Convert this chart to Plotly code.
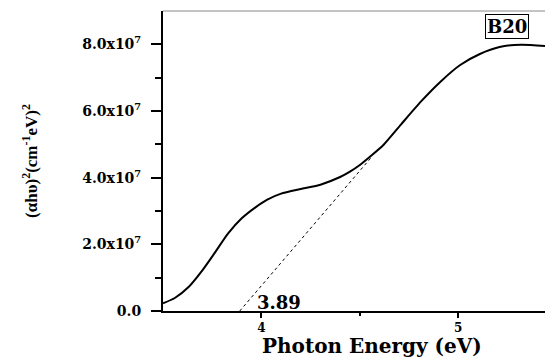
import plotly.graph_objects as go

# Photon energy (eV) and (alpha h nu)^2 in units of 1e7 (cm^-1 eV)^2
energy = [3.50, 3.56, 3.63, 3.70, 3.76, 3.83, 3.90, 3.97, 4.03, 4.10,
          4.20, 4.30, 4.40, 4.45, 4.50, 4.55, 4.62, 4.71, 4.81, 4.91,
          5.01, 5.11, 5.21, 5.32, 5.441]
ahv2_e7 = [0.23, 0.39, 0.72, 1.22, 1.72, 2.32, 2.78, 3.11, 3.34, 3.52,
           3.66, 3.79, 4.02, 4.18, 4.38, 4.62, 4.98, 5.60, 6.28, 6.88,
           7.38, 7.71, 7.92, 7.99, 7.95]
ahv2 = [v * 1e7 for v in ahv2_e7]

# Tauc extrapolation line
fit_x = [3.89, 4.56]
fit_y = [0.0, 4.62e7]
gap_label = "3.89"
sample_label = "B20"
x_title = "Photon Energy (eV)"
y_title = "(αhυ)<sup>2</sup>(cm<sup>-1</sup>eV)<sup>2</sup>"

y_tickvals = [0, 2e7, 4e7, 6e7, 8e7]
y_ticktext = ["0.0", "2.0x10<sup>7</sup>", "4.0x10<sup>7</sup>",
              "6.0x10<sup>7</sup>", "8.0x10<sup>7</sup>"]
y_minor = [1e7, 3e7, 5e7, 7e7]
x_tickvals = [4, 5]
x_ticktext = ["4", "5"]
x_minor = [4.5]

wide = "DejaVu Serif"
L, R, T, B, W, H = 163, 0, 11, 47, 545, 358
plot_w = W - L - R
plot_h = H - T - B

fig = go.Figure()
fig.add_trace(go.Scatter(x=energy, y=ahv2, mode="lines",
                         line=dict(color="black", width=2, shape="spline", smoothing=0.6),
                         hoverinfo="skip", showlegend=False))
fig.add_trace(go.Scatter(x=fit_x, y=fit_y, mode="lines",
                         line=dict(color="black", width=1, dash="3px,3px"),
                         hoverinfo="skip", showlegend=False))

fig.update_layout(
    width=W, height=H,
    margin=dict(l=L, r=R, t=T, b=B),
    paper_bgcolor="white", plot_bgcolor="white",
    font=dict(family=wide, color="black"),
    xaxis=dict(range=[3.5, 5.441], showgrid=False, zeroline=False,
               showline=True, linecolor="black", linewidth=2,
               ticks="outside", ticklen=5, tickwidth=2, tickcolor="black",
               tickmode="array", tickvals=x_tickvals, ticktext=x_ticktext,
               tickfont=dict(family=wide, size=12, weight="bold"),
               minor=dict(tickmode="array", tickvals=x_minor, ticks="outside",
                          ticklen=3, tickwidth=2, tickcolor="black")),
    yaxis=dict(range=[0, 9e7], showgrid=False, zeroline=False,
               showline=True, linecolor="black", linewidth=2,
               ticks="outside", ticklen=10, tickwidth=1.5, tickcolor="black",
               tickmode="array", tickvals=y_tickvals, ticktext=y_ticktext,
               tickfont=dict(family=wide, size=14, weight="bold"),
               ticklabelstandoff=7,
               minor=dict(tickmode="array", tickvals=y_minor, ticks="outside",
                          ticklen=6, tickwidth=1.5, tickcolor="black"),
               title=dict(text=y_title, standoff=40,
                          font=dict(family="Liberation Serif", size=17, weight="bold"))),
    shapes=[dict(type="line", xref="paper", yref="paper", x0=0, x1=1, y0=1, y1=1,
                 line=dict(color="#888888", width=1))],
    annotations=[
        dict(x=3.965, y=0.27e7, xref="x", yref="y", text=gap_label, showarrow=False,
             xanchor="left", yanchor="middle",
             font=dict(family=wide, size=18, weight="bold")),
        dict(x=(507 - L) / plot_w, y=(H - B - 26.5) / plot_h,
             xref="paper", yref="paper", text=sample_label, showarrow=False,
             xanchor="center", yanchor="middle",
             font=dict(family=wide, size=18, weight="bold"),
             bordercolor="black", borderwidth=1, borderpad=1, bgcolor="white"),
        dict(x=(372 - L) / plot_w, y=(H - B - 346) / plot_h,
             xref="paper", yref="paper", text=x_title, showarrow=False,
             xanchor="center", yanchor="middle",
             font=dict(family=wide, size=20, weight="bold")),
    ],
)
fig.write_html("out.html")
